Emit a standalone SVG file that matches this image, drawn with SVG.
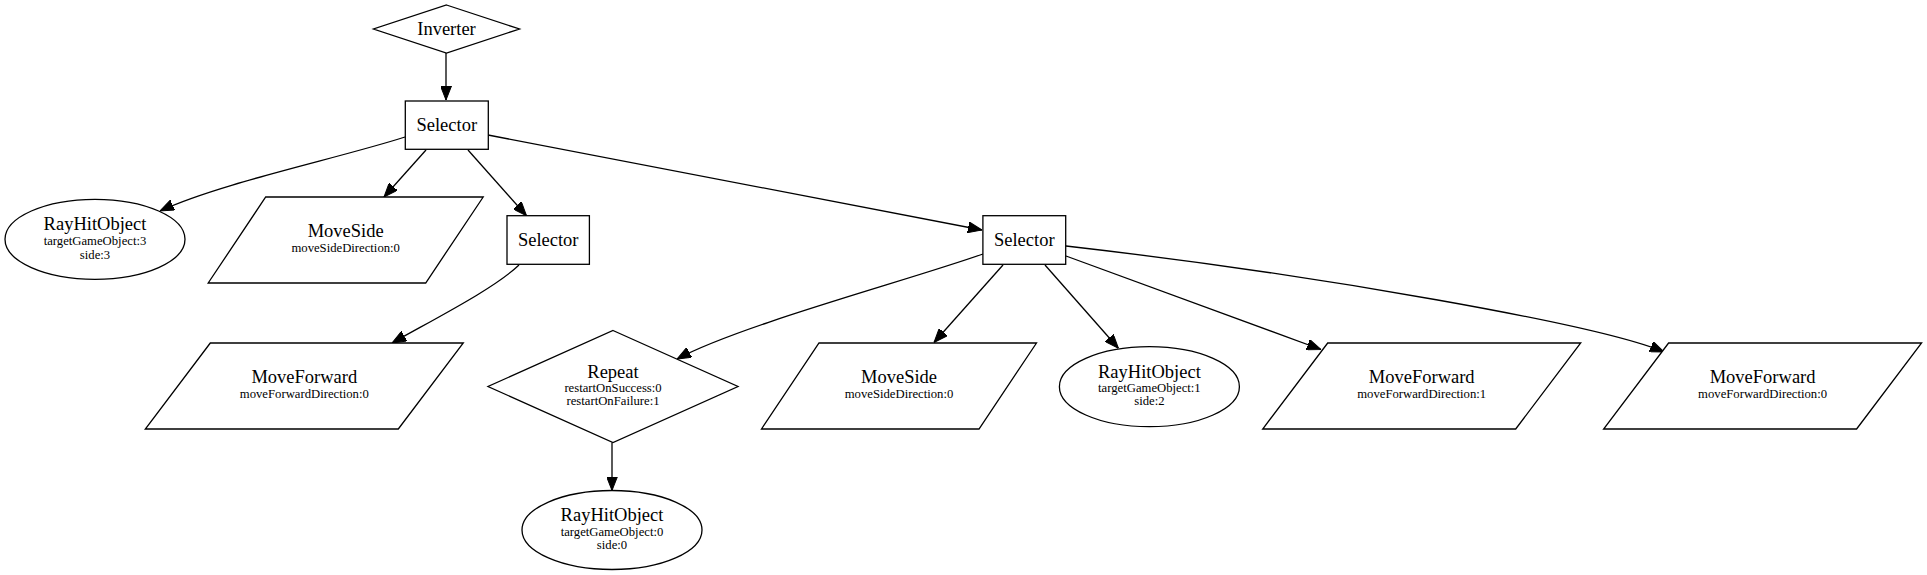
<svg xmlns="http://www.w3.org/2000/svg" width="1927" height="575" viewBox="0 0 1927 575">
<style>
.n{fill:#fff;stroke:#000;stroke-width:1.3}
.e{fill:none;stroke:#000;stroke-width:1.3;marker-end:url(#ah)}
text{font-family:"Liberation Serif","Times New Roman",serif;fill:#000;text-anchor:middle}
.t{font-size:18.5px}
.s{font-size:12.7px}
</style>
<defs>
<marker id="ah" viewBox="0 0 14 11" refX="14" refY="5.5" markerWidth="14" markerHeight="11" markerUnits="userSpaceOnUse" orient="auto">
<polygon points="0,0 14,5.5 0,11" fill="#000" stroke="#000" stroke-width="1"/>
</marker>
</defs>
<rect width="1927" height="575" fill="#fff"/>
<g id="edges">
<path class="e" d="M446,53 L446,100"/>
<path class="e" d="M405,137 C340,158 220,183 160,211"/>
<path class="e" d="M426,150 L384,197"/>
<path class="e" d="M468,150 L526.5,215.7"/>
<path class="e" d="M488,135 L982,230"/>
<path class="e" d="M519,265 C495,288 440,316 392,343"/>
<path class="e" d="M983,254 C910,280 740,325 677,359"/>
<path class="e" d="M1003,265 L934,342.5"/>
<path class="e" d="M1045,265 L1118.4,348.3"/>
<path class="e" d="M1066,256 L1321,349.5"/>
<path class="e" d="M1066,246 C1320,275 1600,325 1664,352"/>
<path class="e" d="M612,442.5 L612,490.5"/>
</g>
<g id="inverter">
<polygon class="n" points="446.5,5 519.5,29 446.5,53 373.5,29"/>
<text class="t" x="446.5" y="35">Inverter</text>
</g>
<g id="selector1">
<rect class="n" x="405.3" y="101" width="83" height="48.3"/>
<text class="t" x="446.8" y="131">Selector</text>
</g>
<g id="rayhit3">
<ellipse class="n" cx="95" cy="239.3" rx="90" ry="40"/>
<text class="t" x="95" y="230.3">RayHitObject</text>
<text class="s" x="95" y="245">targetGameObject:3</text>
<text class="s" x="95" y="258.5">side:3</text>
</g>
<g id="moveside1">
<polygon class="n" points="265.7,197 483.2,197 425.7,283 208.2,283"/>
<text class="t" x="345.7" y="237.3">MoveSide</text>
<text class="s" x="345.7" y="252">moveSideDirection:0</text>
</g>
<g id="selector2">
<rect class="n" x="507" y="215.7" width="82.4" height="48.6"/>
<text class="t" x="548.2" y="246">Selector</text>
</g>
<g id="selector3">
<rect class="n" x="982.9" y="215.7" width="82.8" height="48.6"/>
<text class="t" x="1024.3" y="246">Selector</text>
</g>
<g id="moveforward0a">
<polygon class="n" points="210.3,343 463.3,343 398.3,429 145.3,429"/>
<text class="t" x="304.3" y="383.3">MoveForward</text>
<text class="s" x="304.3" y="398.3">moveForwardDirection:0</text>
</g>
<g id="repeat">
<polygon class="n" points="613,330.5 738,386.5 613,442.5 488,386.5"/>
<text class="t" x="613" y="377.5">Repeat</text>
<text class="s" x="613" y="392">restartOnSuccess:0</text>
<text class="s" x="613" y="405">restartOnFailure:1</text>
</g>
<g id="moveside2">
<polygon class="n" points="819,343 1036.5,343 979,429 761.5,429"/>
<text class="t" x="899" y="383.3">MoveSide</text>
<text class="s" x="899" y="398.3">moveSideDirection:0</text>
</g>
<g id="rayhit1">
<ellipse class="n" cx="1149.4" cy="386.7" rx="90" ry="40"/>
<text class="t" x="1149.4" y="377.5">RayHitObject</text>
<text class="s" x="1149.4" y="392.2">targetGameObject:1</text>
<text class="s" x="1149.4" y="405.2">side:2</text>
</g>
<g id="moveforward1">
<polygon class="n" points="1327.7,343 1580.7,343 1515.7,429 1262.7,429"/>
<text class="t" x="1421.7" y="383.3">MoveForward</text>
<text class="s" x="1421.7" y="398.3">moveForwardDirection:1</text>
</g>
<g id="moveforward0b">
<polygon class="n" points="1668.6,343 1921.6,343 1856.6,429 1603.6,429"/>
<text class="t" x="1762.6" y="383.3">MoveForward</text>
<text class="s" x="1762.6" y="398.3">moveForwardDirection:0</text>
</g>
<g id="rayhit0">
<ellipse class="n" cx="612" cy="530" rx="90" ry="39.5"/>
<text class="t" x="612" y="521">RayHitObject</text>
<text class="s" x="612" y="535.5">targetGameObject:0</text>
<text class="s" x="612" y="548.5">side:0</text>
</g>
</svg>
